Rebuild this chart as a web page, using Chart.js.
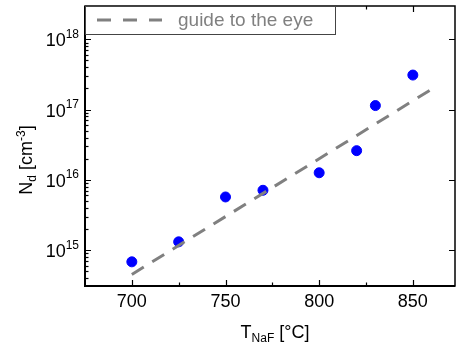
<!DOCTYPE html>
<html>
<head>
<meta charset="utf-8">
<script src="https://cdn.jsdelivr.net/npm/chart.js@4"></script>
<style>
  body { margin: 0; background: #fff; }
  canvas { display: block; }
</style>
</head>
<body>
<canvas id="chart" width="461" height="347"></canvas>
<script>
// measured points
const temps = [700, 725, 750, 770, 800, 820, 830, 850];
const density = [6.8e14, 1.31e15, 5.7e15, 7.1e15, 1.26e16, 2.6e16, 1.14e17, 3.1e17];
// guide to the eye (two end points of the dashed line)
const guideT = [700, 862];
const guideN = [4.5e14, 2.1e17];
// tick labels
const xTicks = [700, 750, 800, 850];
const yExps = [15, 16, 17, 18];
const legendLabel = 'guide to the eye';

const FONT = '"Liberation Sans", Arial, sans-serif';
const GREY = '#808080';

function font(size) { return size + 'px ' + FONT; }

// draws a run of [text, size, dy] pieces, starting at x, along the baseline y
function drawRuns(ctx, runs, x, y) {
  runs.forEach(([t, size, dy]) => {
    ctx.font = font(size);
    ctx.fillText(t, x, y + dy);
    x += ctx.measureText(t).width;
  });
}
function runsWidth(ctx, runs) {
  let w = 0;
  runs.forEach(([t, size]) => { ctx.font = font(size); w += ctx.measureText(t).width; });
  return w;
}

const decor = {
  id: 'decor',
  afterDatasetsDraw(chart) {
    const {ctx, chartArea: a, scales: {x, y}} = chart;
    ctx.save();
    ctx.strokeStyle = '#000';
    ctx.fillStyle = '#000';

    // frame
    ctx.lineWidth = 1.5;
    ctx.strokeRect(a.left, a.top, a.right - a.left, a.bottom - a.top);
    ctx.lineWidth = 2;
    ctx.beginPath();
    ctx.moveTo(a.left, a.top);
    ctx.lineTo(a.left, a.bottom);
    ctx.lineTo(a.right, a.bottom);
    ctx.stroke();

    // x ticks, pointing inward, top and bottom
    ctx.lineWidth = 1.2;
    for (let v = 700; v <= 850; v += 25) {
      const px = Math.round(x.getPixelForValue(v)) + 0.5;
      const len = v % 50 === 0 ? 6 : 3.5;
      ctx.beginPath();
      ctx.moveTo(px, a.bottom); ctx.lineTo(px, a.bottom - len);
      ctx.moveTo(px, a.top); ctx.lineTo(px, a.top + len);
      ctx.stroke();
    }
    // y ticks, log: majors both sides, minors on the left
    for (let e = 14; e <= 18; e++) {
      for (let m = 1; m <= 9; m++) {
        const v = m * Math.pow(10, e);
        if (v < y.min || v > y.max) continue;
        const py = Math.round(y.getPixelForValue(v)) + 0.5;
        const len = m === 1 ? 6 : 3.5;
        ctx.beginPath();
        ctx.moveTo(a.left, py); ctx.lineTo(a.left + len, py);
        if (m === 1) { ctx.moveTo(a.right, py); ctx.lineTo(a.right - len, py); }
        ctx.stroke();
      }
    }

    // x tick labels
    ctx.textAlign = 'center';
    ctx.textBaseline = 'alphabetic';
    ctx.font = font(18);
    xTicks.forEach(v => ctx.fillText(String(v), x.getPixelForValue(v), a.bottom + 21));

    // y tick labels 10^n
    ctx.textAlign = 'left';
    yExps.forEach(e => {
      const py = y.getPixelForValue(Math.pow(10, e));
      const runs = [['10', 18, 7], [String(e), 12, -1.5]];
      const w = runsWidth(ctx, runs);
      drawRuns(ctx, runs, 79 - w, py);
    });

    // x title: T_NaF [°C]
    const xt = [['T', 18, 0], ['NaF', 12, 4], [' [°C]', 18, 0]];
    drawRuns(ctx, xt, (a.left + a.right) / 2 + 5 - runsWidth(ctx, xt) / 2, 338);

    // y title: N_d [cm^-3]
    const yt = [['N', 18, 0], ['d', 12, 4], [' [cm', 18, 0], ['-3', 12, -7], [']', 18, 0]];
    ctx.save();
    ctx.translate(32, 160);
    ctx.rotate(-Math.PI / 2);
    drawRuns(ctx, yt, -runsWidth(ctx, yt) / 2, 0);
    ctx.restore();

    // legend box
    ctx.fillStyle = '#fff';
    ctx.fillRect(a.left, a.top, 250, 28);
    ctx.strokeStyle = '#444';
    ctx.lineWidth = 1;
    ctx.strokeRect(a.left + 0.5, a.top + 0.5, 250, 28);
    ctx.strokeStyle = GREY;
    ctx.lineWidth = 3;
    ctx.setLineDash([14, 12]);
    ctx.beginPath();
    ctx.moveTo(97, a.top + 14); ctx.lineTo(162, a.top + 14);
    ctx.stroke();
    ctx.setLineDash([]);
    ctx.fillStyle = GREY;
    ctx.font = font(19);
    ctx.fillText(legendLabel, 178, a.top + 20);

    ctx.restore();
  }
};

new Chart(document.getElementById('chart'), {
  type: 'scatter',
  data: {
    datasets: [
      {
        type: 'line',
        label: legendLabel,
        data: guideT.map((t, i) => ({x: t, y: guideN[i]})),
        borderColor: GREY,
        borderWidth: 3,
        borderDash: [14, 10],
        pointRadius: 0,
        fill: false
      },
      {
        label: 'N_d',
        data: temps.map((t, i) => ({x: t, y: density[i]})),
        backgroundColor: '#0000ff',
        borderColor: '#0000ff',
        pointRadius: 5,
        pointHoverRadius: 5
      }
    ]
  },
  options: {
    responsive: false,
    animation: false,
    devicePixelRatio: 1,
    layout: { padding: { left: 85, top: 6, right: 1, bottom: 61 } },
    scales: {
      x: { type: 'linear', display: false, min: 675, max: 872.5 },
      y: { type: 'logarithmic', display: false, min: 3.08e14, max: 2.98e18 }
    },
    plugins: {
      legend: { display: false },
      tooltip: { enabled: false }
    }
  },
  plugins: [decor]
});
</script>
</body>
</html>
